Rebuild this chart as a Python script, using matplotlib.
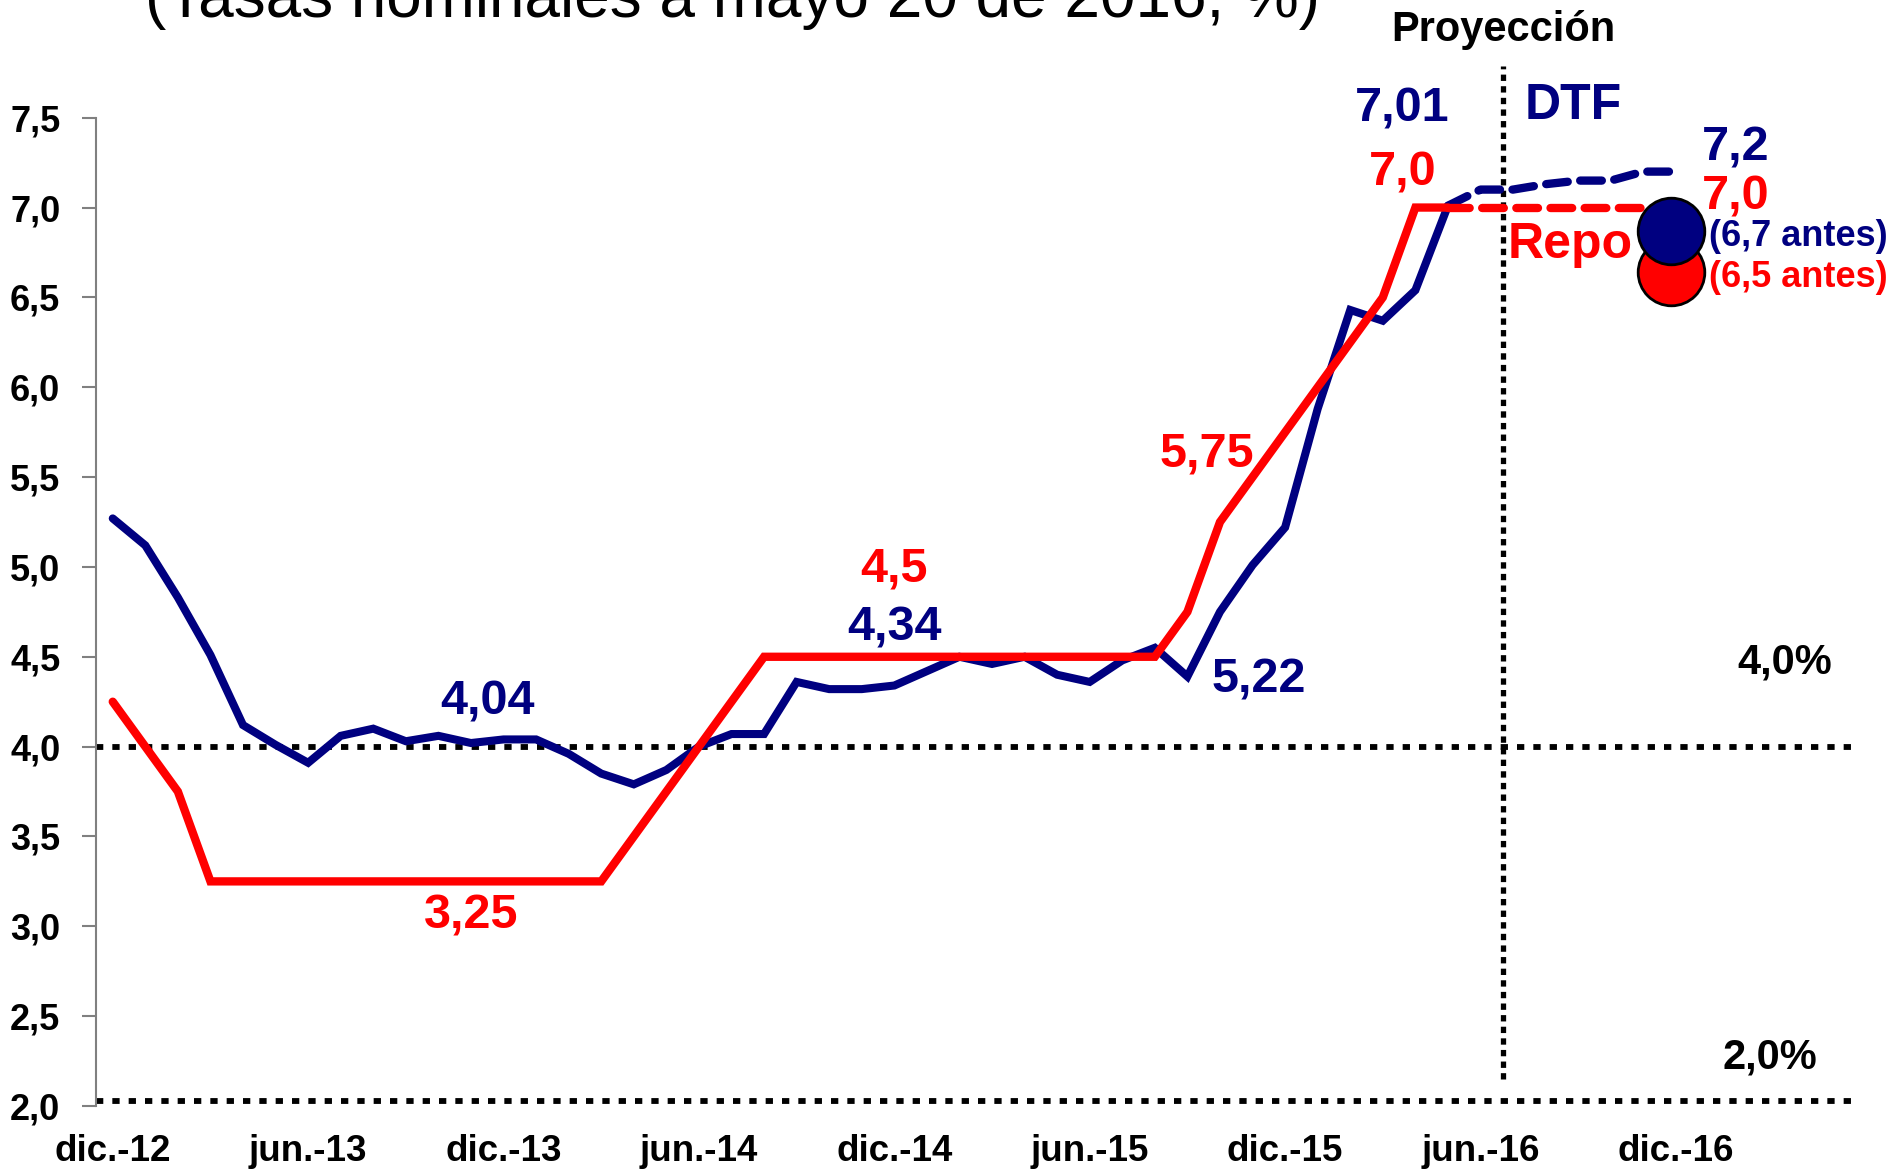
import matplotlib
matplotlib.use("Agg")
import matplotlib.pyplot as plt
import numpy as np

plt.rcParams['font.family'] = ['Liberation Sans', 'DejaVu Sans']

NAVY = '#000080'
RED = '#FF0000'

# ---------------- data ----------------
n_categories = 54  # dic.-12 ... may.-17 (monthly)
tick_positions = [0, 6, 12, 18, 24, 30, 36, 42, 48]
tick_labels = ["dic.-12", "jun.-13", "dic.-13", "jun.-14", "dic.-14",
               "jun.-15", "dic.-15", "jun.-16", "dic.-16"]

# DTF observed, dic.-12 .. may.-16
dtf_observed = [5.27, 5.12, 4.83, 4.51, 4.12, 4.01, 3.91, 4.06, 4.10, 4.03,
                4.06, 4.02, 4.04, 4.04, 3.96, 3.85, 3.79, 3.87, 4.00, 4.07,
                4.07, 4.36, 4.32, 4.32, 4.34, 4.42, 4.50, 4.46, 4.50, 4.40,
                4.36, 4.48, 4.55, 4.39, 4.75, 5.01, 5.22, 5.88, 6.43, 6.37,
                6.54, 7.01]
# Repo observed, dic.-12 .. may.-16
repo_observed = [4.25, 4.00, 3.75, 3.25, 3.25, 3.25, 3.25, 3.25, 3.25, 3.25,
                 3.25, 3.25, 3.25, 3.25, 3.25, 3.25, 3.50, 3.75, 4.00, 4.25,
                 4.50, 4.50, 4.50, 4.50, 4.50, 4.50, 4.50, 4.50, 4.50, 4.50,
                 4.50, 4.50, 4.50, 4.75, 5.25, 5.50, 5.75, 6.00, 6.25, 6.50,
                 7.00, 7.00]
# projections may.-16 .. dic.-16
dtf_projection = [7.01, 7.10, 7.10, 7.13, 7.15, 7.15, 7.20, 7.20]
repo_projection = [7.00, 7.00, 7.00, 7.00, 7.00, 7.00, 7.00, 7.00]
projection_start = 41
projection_divider = 42.7
target_lines = [4.0, 2.03]
previous_marker_y = [6.64, 6.87]   # red (6,5 antes), blue (6,7 antes)
previous_marker_x = 47.85

# ---------------- figure ----------------
fig = plt.figure(figsize=(18.95, 11.7), dpi=100)
ax = fig.add_axes([0.0509, 0.0547, 0.9280, 0.8447])

x_obs = np.arange(len(dtf_observed))
x_proj = np.arange(projection_start, projection_start + len(dtf_projection))

# target reference lines
for yv in target_lines:
    ax.axhline(yv, color='black', lw=4.2, linestyle=(0, (1.25, 1.55)),
               dash_capstyle='butt', clip_on=False, zorder=2)

# projection divider
ax.plot([projection_divider, projection_divider], [2.15, 7.79], color='black',
        lw=3.8, linestyle=(0, (1.2, 1.0)), clip_on=False, zorder=2)

# observed series
ax.plot(x_obs, repo_observed, color=RED, lw=6.0, solid_joinstyle='miter',
        solid_capstyle='round', zorder=4)
ax.plot(x_obs, dtf_observed, color=NAVY, lw=5.8, solid_joinstyle='miter',
        solid_capstyle='round', zorder=3)

# projections
ax.plot(x_proj, repo_projection, color=RED, lw=6.0, linestyle=(0, (2.6, 1.5)),
        dash_capstyle='round', zorder=4)
ax.plot(x_proj, dtf_projection, color=NAVY, lw=6.0, linestyle=(0, (2.6, 1.5)),
        dash_capstyle='round', zorder=3)

# previous forecasts markers
ax.scatter([previous_marker_x], [previous_marker_y[0]], s=2300, color=RED,
           edgecolor='black', linewidth=2, zorder=6, clip_on=False)
ax.scatter([previous_marker_x], [previous_marker_y[1]], s=2300, color=NAVY,
           edgecolor='black', linewidth=2, zorder=7, clip_on=False)

# ---------------- axes styling ----------------
ax.set_xlim(-0.5, n_categories - 0.5)
ax.set_ylim(2.0, 7.5)
yt = np.arange(2.0, 7.51, 0.5)
ax.set_yticks(yt)
ax.set_yticklabels([f"{v:.1f}".replace('.', ',') for v in yt],
                   fontsize=26, fontweight='bold')
ax.set_xticks(tick_positions)
ax.set_xticklabels(tick_labels, fontsize=26.5, fontweight='bold')
ax.tick_params(axis='x', length=0, pad=20)
ax.tick_params(axis='y', length=10, width=1.5, color='#808080', pad=16,
               direction='out')
for s in ['top', 'right', 'bottom']:
    ax.spines[s].set_visible(False)
ax.spines['left'].set_color('#808080')
ax.spines['left'].set_linewidth(1.5)

# ---------------- annotations ----------------
bold = dict(fontweight='bold', ha='center', va='center')
ax.text(11.5, 4.25, "4,04", color=NAVY, fontsize=35, **bold)
ax.text(11.0, 3.06, "3,25", color=RED, fontsize=35, **bold)
ax.text(24.0, 4.99, "4,5", color=RED, fontsize=35, **bold)
ax.text(24.0, 4.66, "4,34", color=NAVY, fontsize=35, **bold)
ax.text(33.6, 5.63, "5,75", color=RED, fontsize=35, **bold)
ax.text(35.2, 4.37, "5,22", color=NAVY, fontsize=35, **bold)
ax.text(39.6, 7.55, "7,01", color=NAVY, fontsize=35, clip_on=False, **bold)
ax.text(39.6, 7.19, "7,0", color=RED, fontsize=35, **bold)
ax.text(44.85, 7.565, "DTF", color=NAVY, fontsize=36, clip_on=False, **bold)
ax.text(44.75, 6.79, "Repo", color=RED, fontsize=36, **bold)
ax.text(49.85, 7.33, "7,2", color=NAVY, fontsize=35, **bold)
ax.text(49.85, 7.06, "7,0", color=RED, fontsize=35, **bold)
ax.text(51.75, 6.84, "(6,7 antes)", color=NAVY, fontsize=26, clip_on=False, **bold)
ax.text(51.75, 6.61, "(6,5 antes)", color=RED, fontsize=26, clip_on=False, **bold)
ax.text(51.35, 4.47, "4,0%", color='black', fontsize=30, **bold)
ax.text(50.9, 2.27, "2,0%", color='black', fontsize=30, **bold)
ax.text(42.7, 7.99, "Proyección", color='black', fontsize=30, clip_on=False, **bold)

fig.text(0.0765, 0.9855, "(Tasas nominales a mayo 20 de 2016; %)",
         fontsize=46, ha='left', va='baseline', color='black')

fig.savefig("out.png", dpi=100)
